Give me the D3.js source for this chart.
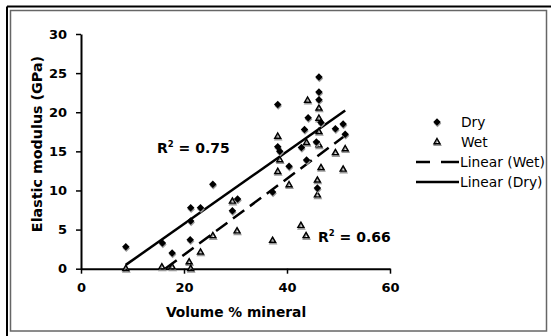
<!DOCTYPE html>
<html>
<head>
<meta charset="utf-8">
<script src="https://cdn.jsdelivr.net/npm/d3@7/dist/d3.min.js"></script>
<style>
  html, body { margin: 0; padding: 0; background: #fff; }
  svg { display: block; font-family: "DejaVu Sans", Verdana, sans-serif; }
</style>
</head>
<body>
<svg id="chart" width="551" height="336"></svg>
<script>
// Elastic modulus vs. mineral volume fraction, dry and wet specimens
const dryX = [8.7, 15.8, 17.7, 21.2, 21.3, 21.3, 23.2, 25.6, 29.4, 30.4, 37.2, 38.2, 38.2, 38.6, 40.4, 42.8, 43.4, 43.8, 44.1, 45.7, 45.9, 46.2, 46.2, 46.2, 46.6, 49.4, 50.9, 51.3];
const dryY = [2.8, 3.3, 2.0, 3.7, 7.8, 6.1, 7.8, 10.8, 7.4, 8.9, 9.8, 21.0, 15.6, 15.0, 13.1, 15.5, 17.8, 13.9, 19.3, 16.2, 10.3, 24.5, 22.6, 21.6, 18.7, 17.9, 18.5, 17.2];
const wetX = [8.7, 15.7, 17.7, 21.0, 21.3, 23.2, 25.6, 29.4, 30.3, 37.2, 38.2, 38.2, 38.6, 40.4, 42.7, 43.7, 44.0, 43.8, 45.9, 45.9, 46.2, 46.2, 46.2, 46.2, 46.6, 49.4, 50.9, 51.3];
const wetY = [0.0, 0.2, 0.2, 0.85, 0.0, 2.1, 4.2, 8.6, 4.8, 3.6, 16.9, 12.4, 13.9, 10.7, 5.5, 4.2, 21.5, 16.1, 9.4, 11.3, 20.5, 19.2, 17.5, 15.8, 12.9, 14.8, 12.7, 15.3];

// Linear trendlines: [slope, intercept, xStart, xEnd]
const dryFit = [0.463, -3.54, 8.7, 51.3];
const wetFit = [0.487, -7.97, 16.4, 51.3];
const r2Labels = ["0.75", "0.66"];

const xTicks = [0, 20, 40, 60];
const yTicks = [0, 5, 10, 15, 20, 25, 30];
const legendLabels = ["Dry", "Wet", "Linear (Wet)", "Linear (Dry)"];

const svg = d3.select("#chart");

// frame
svg.append("line").attr("x1", 7).attr("y1", 6.5).attr("x2", 551).attr("y2", 6.5)
  .attr("stroke", "#000").attr("stroke-width", 2);
svg.append("line").attr("x1", 7).attr("y1", 6.5).attr("x2", 7).attr("y2", 336)
  .attr("stroke", "#000").attr("stroke-width", 2);
svg.append("rect").attr("x", 10.5).attr("y", 10.5).attr("width", 536).attr("height", 320.5)
  .attr("fill", "none").attr("stroke", "#666").attr("stroke-width", 1.5);

const x = d3.scaleLinear().domain([0, 60]).range([81, 390]);
const y = d3.scaleLinear().domain([0, 30]).range([268.7, 34]);

// axes
const xAxis = svg.append("g").attr("transform", `translate(0,${y(0)})`)
  .call(d3.axisBottom(x).tickValues(xTicks).tickSize(5).tickPadding(9).tickSizeOuter(0));
const yAxis = svg.append("g").attr("transform", `translate(${x(0)},0)`)
  .call(d3.axisLeft(y).tickValues(yTicks).tickSize(5).tickPadding(9).tickSizeOuter(0));
[xAxis, yAxis].forEach(g => {
  g.select(".domain").attr("stroke", "#000").attr("stroke-width", 2);
  g.selectAll(".tick line").attr("stroke", "#000").attr("stroke-width", 1.5);
  g.selectAll(".tick text").attr("fill", "#000").attr("font-size", 13)
    .attr("font-weight", "bold").attr("font-family", "DejaVu Sans, sans-serif");
});
xAxis.selectAll(".tick text").attr("dy", "0.71em");

// axis titles
svg.append("text").attr("x", 236).attr("y", 317).attr("text-anchor", "middle")
  .attr("font-size", 13.8).attr("font-weight", "bold").text("Volume % mineral");
svg.append("text").attr("transform", "translate(42,144) rotate(-90)").attr("text-anchor", "middle")
  .attr("font-size", 14.3).attr("font-weight", "bold").text("Elastic modulus (GPa)");

// trendlines
function fitLine(f) {
  const pts = [f[2], f[3]].map(v => [x(v), y(f[0] * v + f[1])]);
  return d3.line()(pts);
}
svg.append("path").attr("d", fitLine(dryFit)).attr("stroke", "#000")
  .attr("stroke-width", 2.5).attr("fill", "none");
svg.append("path").attr("d", fitLine(wetFit)).attr("stroke", "#000")
  .attr("stroke-width", 2.5).attr("fill", "none").attr("stroke-dasharray", "14,7");

// markers with a soft grey drop shadow
const diamond = d3.symbol().type(d3.symbolDiamond2).size(36);
const triangle = d3.symbol().type(d3.symbolTriangle2).size(26);

function drawDry(g, cx, cy) {
  g.append("path").attr("d", diamond()).attr("transform", `translate(${cx + 0.5},${cy + 1.5})`)
    .attr("fill", "#999");
  g.append("path").attr("d", diamond()).attr("transform", `translate(${cx},${cy})`)
    .attr("fill", "#000");
}
function drawWet(g, cx, cy) {
  g.append("path").attr("d", triangle()).attr("transform", `translate(${cx + 0.5},${cy + 1.5})`)
    .attr("fill", "none").attr("stroke", "#999").attr("stroke-width", 1.6);
  g.append("path").attr("d", triangle()).attr("transform", `translate(${cx},${cy})`)
    .attr("fill", "none").attr("stroke", "#000").attr("stroke-width", 1.4);
}

const marks = svg.append("g");
wetX.forEach((v, i) => drawWet(marks, x(v), y(wetY[i])));
dryX.forEach((v, i) => drawDry(marks, x(v), y(dryY[i])));

// R² annotations
function r2(g, tx, ty, val) {
  const t = g.append("text").attr("x", tx).attr("y", ty).attr("font-size", 14)
    .attr("font-weight", "bold");
  t.append("tspan").text("R");
  t.append("tspan").attr("font-size", 8.5).attr("dy", -6).text("2");
  t.append("tspan").attr("dy", 6).text(" = " + val);
}
r2(svg, 157, 153, r2Labels[0]);
r2(svg, 318, 242, r2Labels[1]);

// legend
const lg = svg.append("g");
const ly = [122, 142, 162, 182];
drawDry(lg, 437, ly[0]);
drawWet(lg, 437, ly[1]);
lg.append("line").attr("x1", 416).attr("x2", 430).attr("y1", ly[2]).attr("y2", ly[2])
  .attr("stroke", "#000").attr("stroke-width", 2.5);
lg.append("line").attr("x1", 441).attr("x2", 459).attr("y1", ly[2]).attr("y2", ly[2])
  .attr("stroke", "#000").attr("stroke-width", 2.5);
lg.append("line").attr("x1", 416).attr("x2", 459).attr("y1", ly[3]).attr("y2", ly[3])
  .attr("stroke", "#000").attr("stroke-width", 2.5);
legendLabels.forEach((s, i) => {
  lg.append("text").attr("x", i < 2 ? 461 : 460).attr("y", ly[i]).attr("dy", "0.36em")
    .attr("font-size", 13.8).text(s);
});
</script>
</body>
</html>
